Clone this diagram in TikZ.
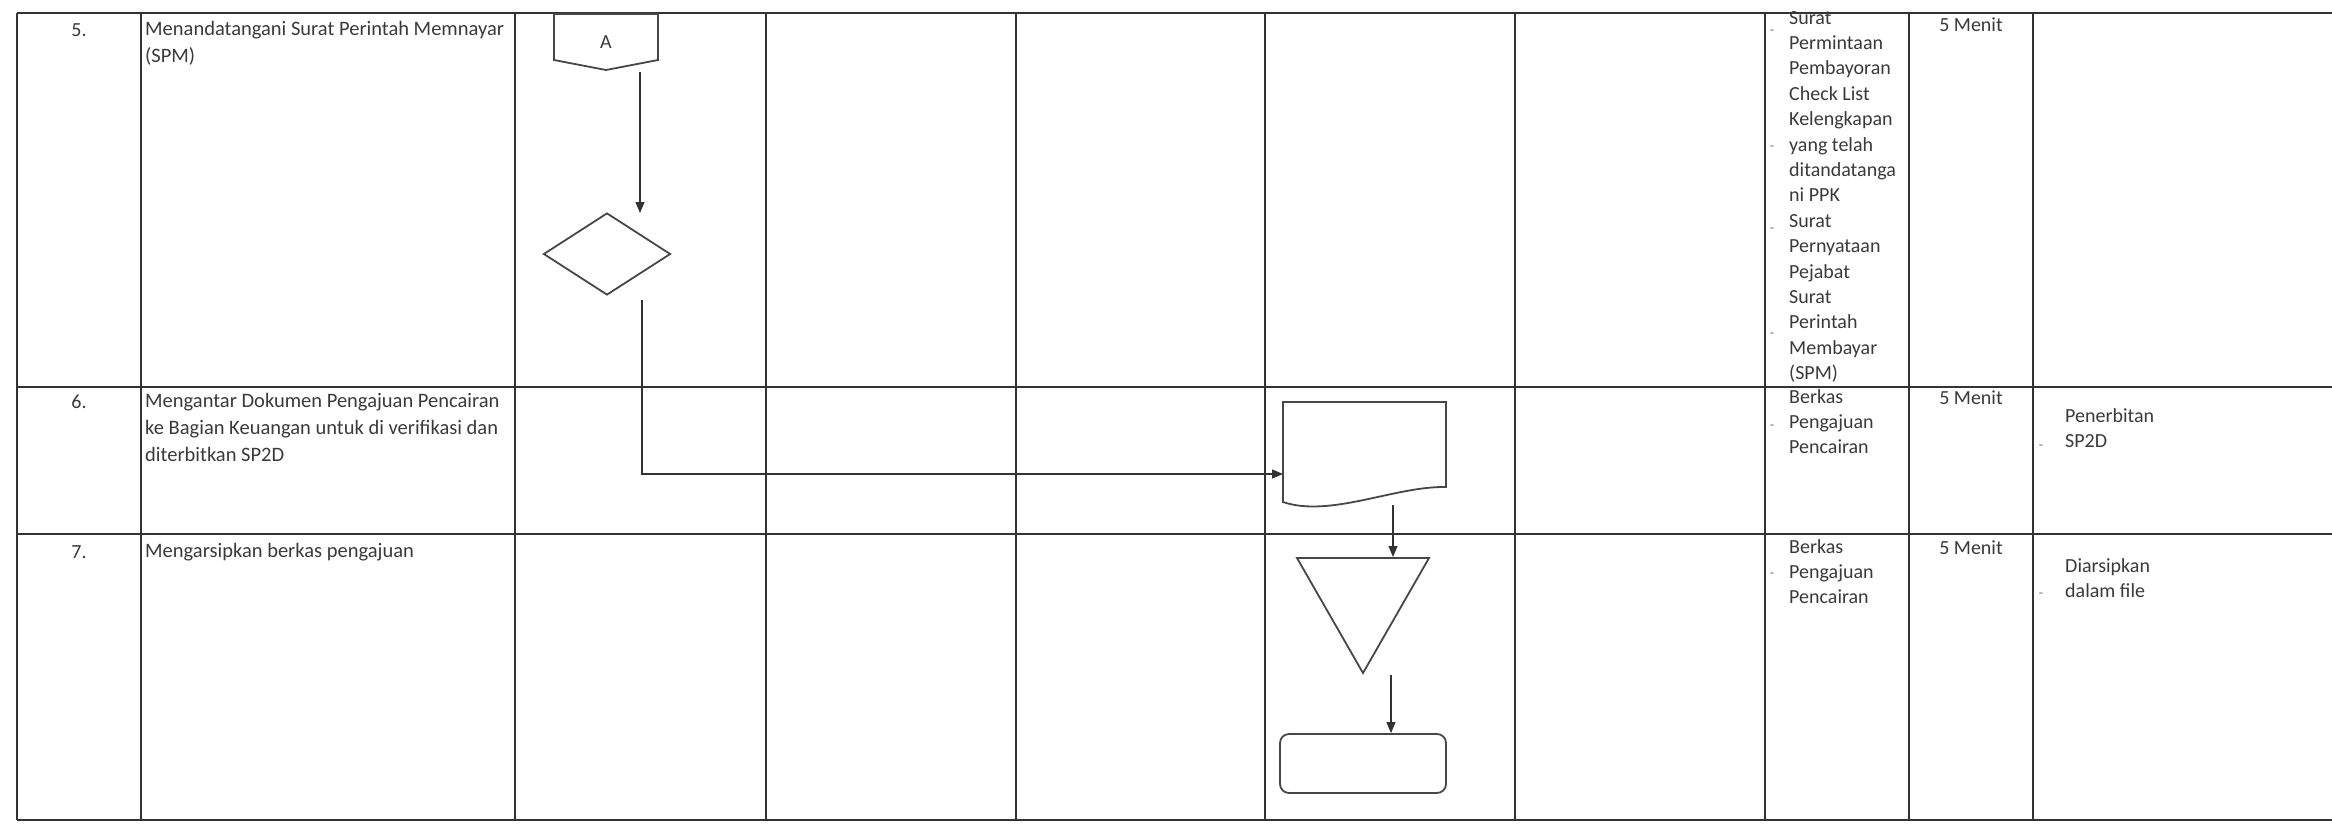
\documentclass[tikz,border=0pt]{standalone}
\usepackage{fontspec}
\setmainfont{Carlito}
\usetikzlibrary{arrows.meta,shapes.geometric,calc}
\definecolor{ink}{HTML}{333333}
\definecolor{txt}{HTML}{3A3A3A}
\begin{document}
\begin{tikzpicture}[x=1pt,y=-1pt,
  grid/.style={draw=ink,line width=2.2pt},
  shp/.style={draw=ink!90,line width=1.8pt},
  flow/.style={draw=ink,line width=1.3pt,-{Triangle[length=11pt,width=9pt]}},
  lbl/.style={inner sep=0pt,text=txt,font=\fontsize{20.5}{27}\selectfont,align=left,anchor=north west},
  lst/.style={inner sep=0pt,text=txt,font=\fontsize{20}{25.4}\selectfont,align=left,anchor=north west},
  num/.style={inner sep=0pt,text=txt,font=\fontsize{20}{24}\selectfont,anchor=center},
  bul/.style={inner sep=0pt,text=txt!70,font=\fontsize{14}{16}\selectfont,anchor=center}
]
\fill[white] (0,0) rectangle (2332,823);
\useasboundingbox (0,0) rectangle (2332,823);

% table grid
\foreach \yy in {13,387,534,820} \draw[grid] (17,\yy) -- (2332,\yy);
\foreach \xx in {17,141,515,766,1016,1265,1515,1765,1909,2033} \draw[grid] (\xx,13) -- (\xx,820);

% step numbers
\node[num] (s5) at (79,30) {5.};
\node[num] (s6) at (79,402) {6.};
\node[num] (s7) at (79,552) {7.};

% activities
\node[lbl] (t5) at (145,21) {Menandatangani Surat Perintah Memnayar\\(SPM)};
\node[lbl] (t6) at (145,393) {Mengantar Dokumen Pengajuan Pencairan\\ke Bagian Keuangan untuk di verifikasi dan\\diterbitkan SP2D};
\node[lbl] (t7) at (145,543) {Mengarsipkan berkas pengajuan};

% documents column
\node[lst] (k5) at (1789,11) {Surat\\Permintaan\\Pembayoran\\Check List\\Kelengkapan\\yang telah\\ditandatanga\\ni PPK\\Surat\\Pernyataan\\Pejabat\\Surat\\Perintah\\Membayar\\(SPM)};
\node[lst] (k6) at (1789,389) {Berkas\\Pengajuan\\Pencairan};
\node[lst] (k7) at (1789,539) {Berkas\\Pengajuan\\Pencairan};
\node[bul] (b1) at (1772,32) {-};
\node[bul] (b2) at (1772,148) {-};
\node[bul] (b3) at (1772,230) {-};
\node[bul] (b4) at (1772,335) {-};
\node[bul] (b5) at (1772,427) {-};
\node[bul] (b6) at (1772,575) {-};

% time column
\node[num] (w5) at (1971,25) {5 Menit};
\node[num] (w6) at (1971,398) {5 Menit};
\node[num] (w7) at (1971,548) {5 Menit};

% output column
\node[lst] (o6) at (2065,408) {Penerbitan\\SP2D};
\node[lst] (o7) at (2065,558) {Diarsipkan\\dalam file};
\node[bul] (b7) at (2041,447) {-};
\node[bul] (b8) at (2041,595) {-};

% off-page connector A
\draw[shp] (554,14) -- (658,14) -- (658,60) -- (606,70) -- (554,60) -- cycle;
\node[num] (A) at (606,42) {A};
\coordinate (a1) at (640,72);
\coordinate (a2) at (640,213);
\draw[flow] (a1) -- (a2);

% decision
\node[diamond,shp,minimum width=127pt,minimum height=82pt,inner sep=0pt] (dec) at (607,254) {};
\coordinate (d1) at (642,300);
\coordinate (d2) at (642,474);

% document shape
\draw[shp] (1283,402) -- (1446,402) -- (1446,487) .. controls (1395,486) and (1330,518) .. (1283,502) -- cycle;
\coordinate (docl) at (1283,474);
\draw[flow] (d1) -- (d2) -- (docl);

% archive triangle
\draw[shp] (1297,558) -- (1429,558) -- (1363,673) -- cycle;
\coordinate (e1) at (1393,505);
\coordinate (e2) at (1393,557);
\draw[flow] (e1) -- (e2);

% end box
\node[shp,rounded corners=9pt,minimum width=166pt,minimum height=59pt,inner sep=0pt] (fin) at (1363,763.5) {};
\coordinate (f1) at (1391,675);
\draw[flow] (f1) -- (f1 |- fin.north);
\end{tikzpicture}
\end{document}
